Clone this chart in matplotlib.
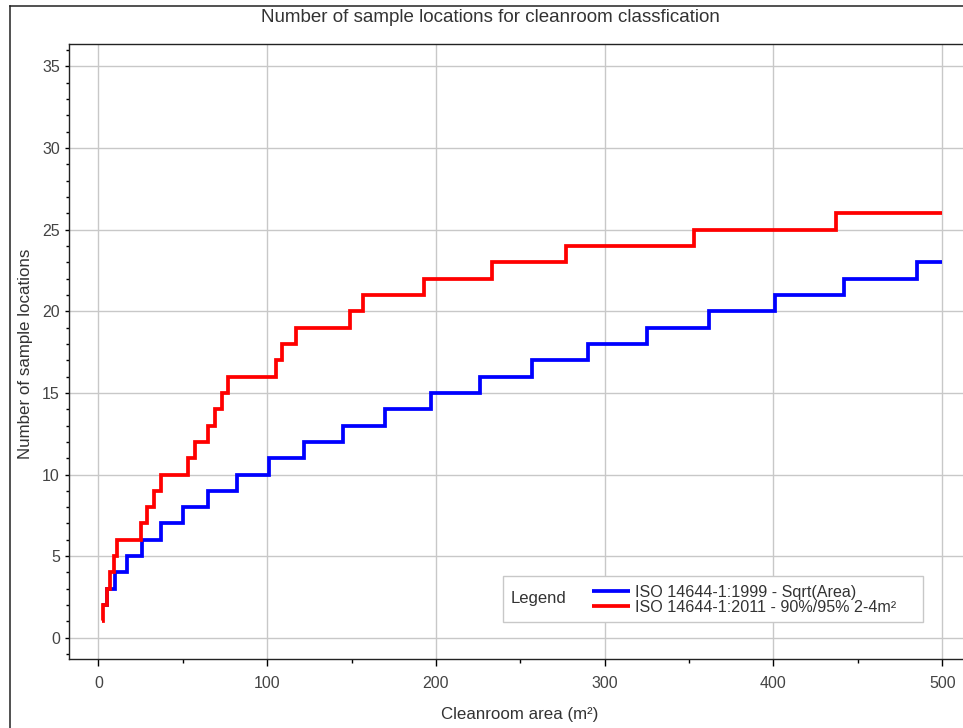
import matplotlib
matplotlib.use('Agg')
import matplotlib.pyplot as plt
from matplotlib.lines import Line2D
from matplotlib.patches import Rectangle
from matplotlib.ticker import MultipleLocator

plt.rcParams['font.family'] = ['Liberation Sans', 'DejaVu Sans']

# ISO 14644-1:1999 - Sqrt(Area): area where each step starts, and locations
area_1999 = [2, 5, 10, 17, 26, 37, 50, 65, 82, 101, 122, 145, 170, 197, 226,
             257, 290, 325, 362, 401, 442, 485, 500]
loc_1999 = [2, 3, 4, 5, 6, 7, 8, 9, 10, 11, 12, 13, 14, 15, 16,
            17, 18, 19, 20, 21, 22, 23, 23]

# ISO 14644-1:2011 - 90%/95% 2-4m²
area_2011 = [2, 3, 5, 7, 9, 11, 25, 29, 33, 37, 53, 57, 65, 69, 73, 77, 105,
             109, 117, 149, 157, 193, 233, 277, 353, 437, 500]
loc_2011 = [1, 2, 3, 4, 5, 6, 7, 8, 9, 10, 11, 12, 13, 14, 15, 16, 17,
            18, 19, 20, 21, 22, 23, 24, 25, 26, 26]

labels = ['ISO 14644-1:1999 - Sqrt(Area)', 'ISO 14644-1:2011 - 90%/95% 2-4m²']
colors = ['#0000ff', '#ff0000']

W, H = 963, 728
fx = lambda px: px / W
fy = lambda py: 1 - py / H

fig = plt.figure(figsize=(W / 100, H / 100), dpi=100)
ax = fig.add_axes([fx(69), fy(659), fx(976) - fx(69), fy(44) - fy(659)])

l1, = ax.step(area_1999, loc_1999, where='post', color=colors[0], lw=2.7,
              solid_joinstyle='miter', solid_capstyle='butt', zorder=3)
l2, = ax.step(area_2011, loc_2011, where='post', color=colors[1], lw=2.7,
              solid_joinstyle='miter', solid_capstyle='butt', zorder=3)

ax.set_xlim(-17.4, 520)
ax.set_ylim(-1.30, 36.37)
ax.xaxis.set_major_locator(MultipleLocator(100))
ax.xaxis.set_minor_locator(MultipleLocator(50))
ax.yaxis.set_major_locator(MultipleLocator(5))
ax.yaxis.set_minor_locator(MultipleLocator(1))
ax.grid(True, which='major', color='#c8c8c8', lw=1.0)
ax.set_axisbelow(True)

ax.tick_params(axis='x', which='major', direction='out', length=5, width=1,
               pad=7, labelsize=11.5, labelcolor='#444444')
ax.tick_params(axis='x', which='minor', direction='out', length=3, width=1)
ax.tick_params(axis='y', which='major', direction='out', length=3, width=1,
               pad=3.5, labelsize=11.5, labelcolor='#444444')
ax.tick_params(axis='y', which='minor', direction='out', length=2.2, width=1)
for s in ax.spines.values():
    s.set_linewidth(1.0)
    s.set_color('#222222')

fig.text(fx(490), fy(18), 'Number of sample locations for cleanroom classfication',
         ha='center', va='center', fontsize=13.5, color='#333333')
fig.text(fx(520), fy(715), 'Cleanroom area (m²)', ha='center', va='center',
         fontsize=12.2, color='#333333')
fig.text(fx(26), fy(354), 'Number of sample locations', ha='center', va='center',
         rotation=90, fontsize=12.2, color='#333333')

# outer frame (left and top edges visible)
fig.add_artist(Line2D([fx(9.5), fx(9.5)], [0, fy(5.5)], transform=fig.transFigure,
                      color='#222222', lw=1.1))
fig.add_artist(Line2D([fx(9.5), 1], [fy(5.5), fy(5.5)], transform=fig.transFigure,
                      color='#222222', lw=1.1))

# legend box
fig.add_artist(Rectangle((fx(503), fy(622)), fx(923) - fx(503), fy(576) - fy(622),
                         transform=fig.transFigure, facecolor='white',
                         edgecolor='#c8c8c8', lw=1.0, zorder=2))
fig.text(fx(511), fy(599), 'Legend', ha='left', va='center', fontsize=12,
         color='#333333', zorder=3)
fig.legend([l1, l2], labels, loc='center left', bbox_to_anchor=(fx(592), fy(599.5)),
           bbox_transform=fig.transFigure, frameon=False, fontsize=11.6,
           handlelength=2.36, handletextpad=0.31, labelspacing=0.0,
           borderpad=0, borderaxespad=0, labelcolor='#333333')

fig.savefig('out.png', dpi=100)
